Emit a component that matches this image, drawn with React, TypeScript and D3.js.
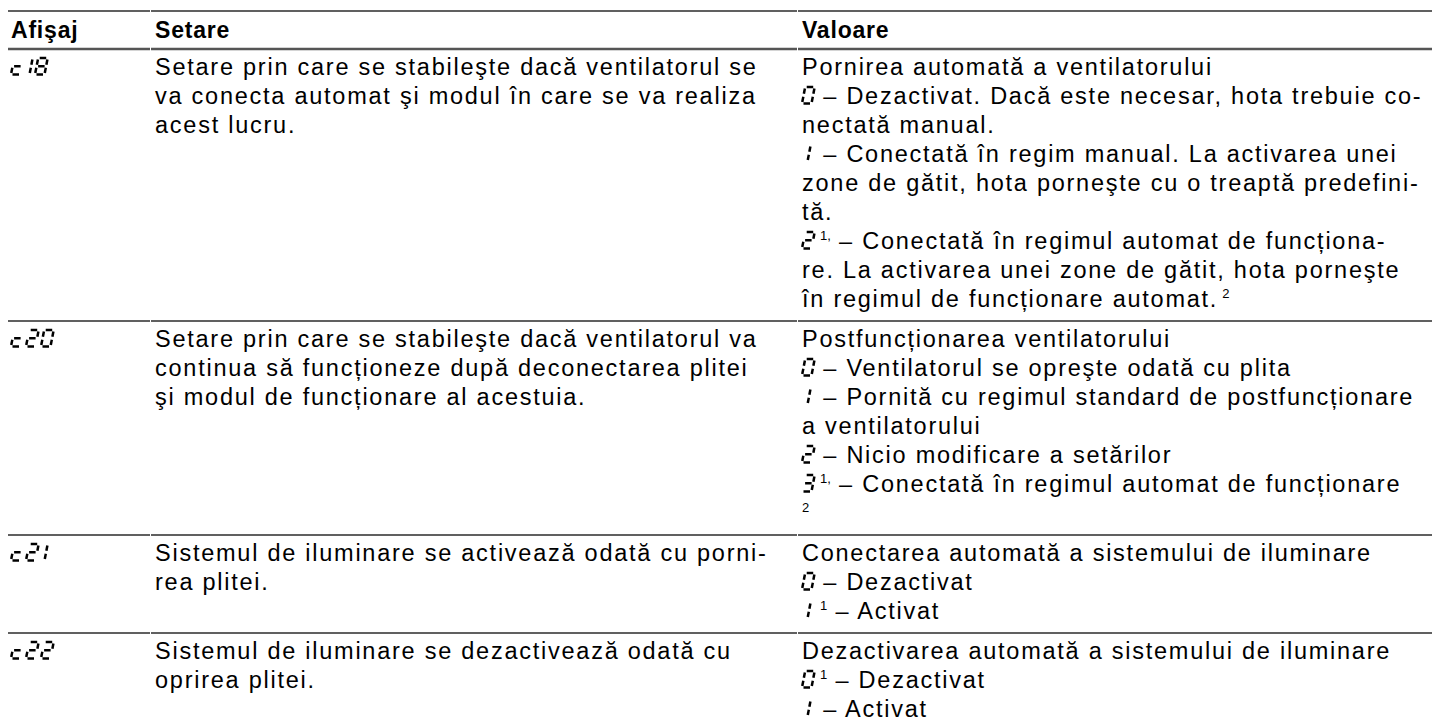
import React from "react";
import * as d3 from "d3";

// table content
const headers = ["Afişaj", "Setare", "Valoare"];
const codes = ["c18", "c20", "c21", "c22"];

const settings = [
  [
    "Setare prin care se stabileşte dacă ventilatorul se",
    "va conecta automat şi modul în care se va realiza",
    "acest lucru.",
  ],
  [
    "Setare prin care se stabileşte dacă ventilatorul va",
    "continua să funcționeze după deconectarea plitei",
    "şi modul de funcționare al acestuia.",
  ],
  ["Sistemul de iluminare se activează odată cu porni-", "rea plitei."],
  ["Sistemul de iluminare se dezactivează odată cu", "oprirea plitei."],
];

// each line: [display digit, superscript after digit, text, superscript at end]
const values = [
  [
    ["", "", "Pornirea automată a ventilatorului", ""],
    ["0", "", " – Dezactivat. Dacă este necesar, hota trebuie co-", ""],
    ["", "", "nectată manual.", ""],
    ["1", "", " – Conectată în regim manual. La activarea unei", ""],
    ["", "", "zone de gătit, hota porneşte cu o treaptă predefini-", ""],
    ["", "", "tă.", ""],
    ["2", "1,", " – Conectată în regimul automat de funcționa-", ""],
    ["", "", "re. La activarea unei zone de gătit, hota porneşte", ""],
    ["", "", "în regimul de funcționare automat.", "2"],
  ],
  [
    ["", "", "Postfuncționarea ventilatorului", ""],
    ["0", "", " – Ventilatorul se opreşte odată cu plita", ""],
    ["1", "", " – Pornită cu regimul standard de postfuncționare", ""],
    ["", "", "a ventilatorului", ""],
    ["2", "", " – Nicio modificare a setărilor", ""],
    ["3", "1,", " – Conectată în regimul automat de funcționare", ""],
    ["", "", "", "2"],
  ],
  [
    ["", "", "Conectarea automată a sistemului de iluminare", ""],
    ["0", "", " – Dezactivat", ""],
    ["1", "1", " – Activat", ""],
  ],
  [
    ["", "", "Dezactivarea automată a sistemului de iluminare", ""],
    ["0", "1", " – Dezactivat", ""],
    ["1", "", " – Activat", ""],
  ],
];

const W = 1432;
const H = 726;
const FONT = "'Liberation Sans', Arial, Helvetica, sans-serif";
const FS = 23.5;
const TRACK = 1.75;
const LINE = 29;
const PAD_TOP = 25.5;
const PAD_BOTTOM = 14.5;
const TOP_RULE = 11;
const HEAD_RULE = 49;

// column edges and text starts
const colEdges = [8, 151, 798, W];
const colText = [11, 155, 802];

const SEGS: Record<string, string> = {
  "0": "abcdef",
  "1": "bc",
  "2": "abged",
  "3": "abgcd",
  "8": "abcdefg",
  c: "ged",
};

// seven segment glyph like the hob display, drawn from its baseline
function SevenSeg({ ch, x, y }: { ch: string; x: number; y: number }) {
  const w = 9.5;
  const h = 16.5;
  const m = h / 2;
  const g = 1.5;
  const slant = Math.tan((11 * Math.PI) / 180);
  const seg: Record<string, number[][]> = {
    a: [[g, h], [w - g, h]],
    b: [[w, h - g], [w, m + g]],
    c: [[w, m - g], [w, g]],
    d: [[g, 0], [w - g, 0]],
    e: [[0, m - g], [0, g]],
    f: [[0, h - g], [0, m + g]],
    g: [[g, m], [w - g, m]],
  };
  const line = d3
    .line<number[]>()
    .x((p) => x + p[0] + p[1] * slant)
    .y((p) => y - p[1]);
  return (
    <g aria-label={ch}>
      {(SEGS[ch] || "").split("").map((s) => (
        <path key={s} d={line(seg[s]) || ""} stroke="#000" strokeWidth={2.5} fill="none" />
      ))}
    </g>
  );
}

function codeGlyphs(code: string, x: number, y: number) {
  let cx = x;
  return code.split("").map((ch, i) => {
    const one = ch === "1";
    const pos = one ? cx - 6 : cx;
    cx += one ? 9 : 15;
    return <SevenSeg key={i} ch={ch} x={pos} y={y} />;
  });
}

export default function App() {
  const lineCounts = values.map((v) => v.length);
  const rowHeights = lineCounts.map((n) => PAD_TOP + (n - 1) * LINE + PAD_BOTTOM);
  const rowTops = [HEAD_RULE, ...Array.from(d3.cumsum(rowHeights), (c) => HEAD_RULE + c)];
  const lineY = d3.scaleLinear().domain([0, 1]).range([PAD_TOP, PAD_TOP + LINE]);

  const rule = (y: number, stroke: string, sw: number, key: string) =>
    d3.pairs(colEdges).map(([a, b], i) => (
      <line
        key={key + i}
        x1={a}
        x2={i === colEdges.length - 2 ? b : b - 1}
        y1={y}
        y2={y}
        stroke={stroke}
        strokeWidth={sw}
      />
    ));

  return (
    <svg
      width={W}
      height={H}
      style={{ position: "absolute", left: 0, top: 0, background: "#fff" }}
      fontFamily={FONT}
    >
      <rect width={W} height={H} fill="#fff" />
      {rule(TOP_RULE, "#2b2b2b", 1.4, "top")}
      {headers.map((h, i) => (
        <text key={h} x={colText[i]} y={38} fontSize={23} fontWeight="bold" letterSpacing={0.8} fill="#000">
          {h}
        </text>
      ))}
      {rule(HEAD_RULE, "#555", 2.4, "head")}

      {codes.map((code, r) => {
        const top = rowTops[r];
        return (
          <g key={code}>
            {r > 0 && rule(top, "#2b2b2b", 1.4, "row" + r)}
            {codeGlyphs(code, colText[0], top + lineY(0))}
            {settings[r].map((t, k) => (
              <text key={k} x={colText[1]} y={top + lineY(k)} fontSize={FS} letterSpacing={TRACK} fill="#000">
                {t}
              </text>
            ))}
            {values[r].map(([dig, sup, txt, endSup], k) => {
              const y = top + lineY(k);
              const tx = dig ? colText[2] + 13 : colText[2];
              return (
                <g key={k}>
                  {dig && <SevenSeg ch={dig} x={dig === "1" ? colText[2] - 4 : colText[2]} y={y} />}
                  <text
                    x={tx}
                    y={y}
                    fontSize={FS}
                    letterSpacing={TRACK}
                    fill="#000"
                    style={{ whiteSpace: "pre" }}
                  >
                    {sup && (
                      <tspan dx={5} dy={-9} fontSize={13} letterSpacing={0}>
                        {sup}
                      </tspan>
                    )}
                    {txt && <tspan dy={sup ? 9 : 0}>{txt}</tspan>}
                    {endSup && (
                      <tspan dx={txt ? 4 : 0} dy={-9} fontSize={13} letterSpacing={0}>
                        {endSup}
                      </tspan>
                    )}
                  </text>
                </g>
              );
            })}
          </g>
        );
      })}
    </svg>
  );
}
